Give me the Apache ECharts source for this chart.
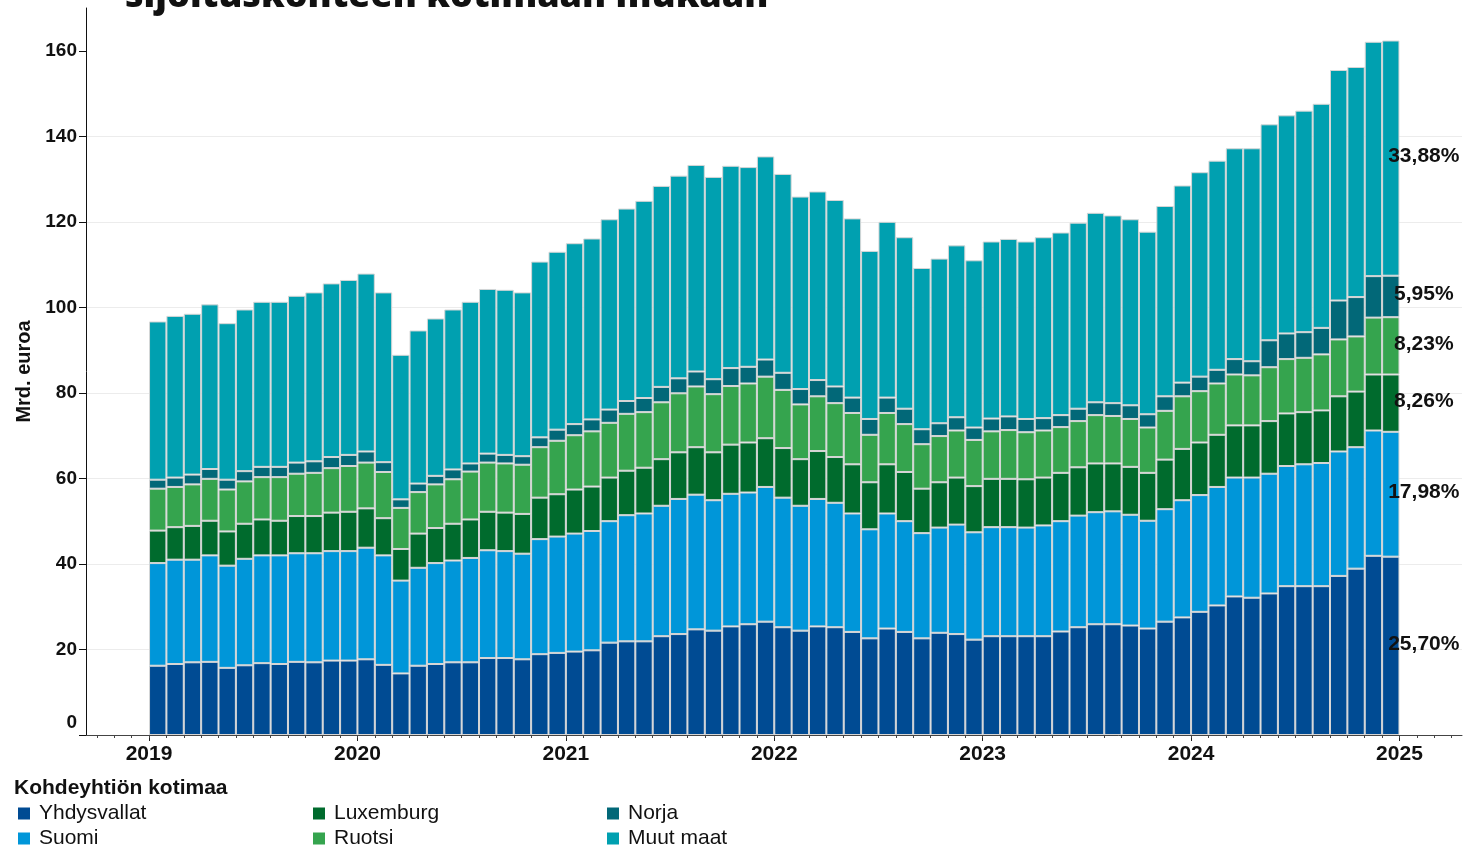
<!DOCTYPE html>
<html>
<head>
<meta charset="utf-8">
<title>Sijoituskohteen kotimaa</title>
<script src="https://cdn.jsdelivr.net/npm/echarts@6/dist/echarts.min.js"></script>
<style>
  html, body { margin: 0; padding: 0; background: #fff; }
  #main { width: 1465px; height: 848px; }
</style>
</head>
<body>
<div id="main"></div>
<script>
// vuodet (x-akselin tikit) ja kuukaudet
var yearLabels = ['2019', '2020', '2021', '2022', '2023', '2024', '2025'];
var monthNames = ['01', '02', '03', '04', '05', '06', '07', '08', '09', '10', '11', '12'];
var months = [];
yearLabels.slice(0, 6).forEach(function (y) {
    monthNames.forEach(function (m) { months.push(y + '-' + m); });
});

// mrd. euroa, tammikuu 2019 - joulukuu 2024
var yhdysvallat = [16.2, 16.6, 17.0, 17.1, 15.7, 16.3, 16.8, 16.6, 17.1, 17.0, 17.4, 17.4,
    17.7, 16.4, 14.4, 16.2, 16.6, 17.0, 17.0, 18.0, 18.0, 17.7, 18.9, 19.2,
    19.5, 19.8, 21.6, 21.9, 21.9, 23.1, 23.6, 24.7, 24.4, 25.4, 25.9, 26.5,
    25.2, 24.4, 25.4, 25.2, 24.1, 22.6, 24.9, 24.1, 22.6, 23.9, 23.6, 22.3,
    23.1, 23.1, 23.1, 23.1, 24.2, 25.2, 25.9, 25.9, 25.6, 24.9, 26.5, 27.5,
    28.8, 30.3, 32.4, 32.1, 33.1, 34.8, 34.8, 34.8, 37.2, 38.9, 41.9, 41.7];
var suomi = [24.0, 24.4, 24.0, 24.9, 23.9, 24.9, 25.2, 25.4, 25.4, 25.5, 25.6, 25.6,
    26.1, 25.6, 21.7, 22.9, 23.6, 23.8, 24.4, 25.2, 25.0, 24.7, 26.9, 27.2,
    27.6, 27.9, 28.4, 29.5, 29.9, 30.5, 31.6, 31.5, 30.5, 31.0, 30.8, 31.5,
    30.3, 29.2, 29.8, 29.1, 27.7, 25.5, 26.9, 25.9, 24.6, 24.6, 25.6, 25.1,
    25.5, 25.5, 25.4, 25.9, 25.8, 26.1, 26.2, 26.4, 25.9, 25.2, 26.3, 27.4,
    27.3, 27.7, 27.8, 28.1, 28.0, 28.1, 28.5, 28.8, 29.1, 28.4, 29.3, 29.2];
var luxemburg = [7.6, 7.6, 7.9, 8.1, 8.0, 8.2, 8.4, 8.1, 8.7, 8.7, 9.0, 9.2,
    9.2, 8.7, 7.4, 8.0, 8.2, 8.6, 9.0, 9.0, 9.0, 9.3, 9.7, 9.9,
    10.3, 10.4, 10.2, 10.4, 10.7, 10.9, 10.9, 11.1, 11.2, 11.5, 11.7, 11.4,
    11.6, 10.9, 11.2, 10.7, 11.5, 11.0, 11.5, 11.5, 10.4, 10.6, 11.0, 10.8,
    11.3, 11.3, 11.3, 11.2, 11.3, 11.3, 11.4, 11.2, 11.2, 11.2, 11.6, 12.0,
    12.3, 12.2, 12.2, 12.2, 12.3, 12.3, 12.2, 12.3, 12.9, 13.0, 13.1, 13.4];
var ruotsi = [9.8, 9.4, 9.7, 9.8, 9.8, 9.9, 9.9, 10.2, 9.9, 10.1, 10.4, 10.7,
    10.7, 10.8, 9.6, 9.7, 10.2, 10.4, 11.2, 11.5, 11.5, 11.5, 11.8, 12.5,
    12.7, 12.9, 12.8, 13.3, 13.0, 13.3, 13.8, 14.2, 13.6, 13.7, 13.8, 14.4,
    13.6, 12.8, 12.8, 12.6, 12.0, 11.1, 12.0, 11.2, 10.4, 10.8, 11.0, 10.8,
    11.1, 11.4, 11.0, 11.0, 10.7, 10.8, 11.3, 11.1, 11.2, 10.6, 11.4, 12.3,
    12.0, 12.0, 11.9, 11.7, 12.6, 12.7, 12.7, 13.1, 13.3, 12.9, 13.3, 13.4];
var norja = [2.1, 2.2, 2.3, 2.3, 2.3, 2.4, 2.4, 2.4, 2.6, 2.7, 2.6, 2.6,
    2.6, 2.3, 2.0, 2.0, 2.0, 2.3, 1.9, 2.1, 2.0, 2.0, 2.3, 2.6,
    2.6, 2.8, 3.1, 3.0, 3.3, 3.6, 3.5, 3.5, 3.5, 4.2, 3.9, 4.0,
    4.0, 3.6, 3.8, 3.9, 3.6, 3.7, 3.6, 3.6, 3.5, 3.0, 3.1, 2.9,
    3.0, 3.2, 3.1, 2.9, 2.8, 2.9, 3.0, 3.0, 3.2, 3.1, 3.4, 3.2,
    3.4, 3.2, 3.6, 3.3, 6.3, 6.0, 6.0, 6.2, 9.1, 9.2, 9.7, 9.7];
var muutMaat = [37.0, 37.8, 37.6, 38.5, 36.6, 37.8, 38.6, 38.6, 39.0, 39.5, 40.6, 40.9,
    41.6, 39.7, 33.8, 35.8, 36.8, 37.4, 37.8, 38.5, 38.6, 38.3, 41.1, 41.6,
    42.3, 42.3, 44.5, 45.0, 46.1, 47.0, 47.4, 48.3, 47.3, 47.3, 46.7, 47.5,
    46.5, 45.0, 44.1, 43.6, 41.9, 39.3, 41.1, 40.1, 37.7, 38.5, 40.2, 39.1,
    41.4, 41.5, 41.5, 42.3, 42.7, 43.5, 44.3, 43.9, 43.5, 42.7, 44.5, 46.1,
    47.8, 48.9, 49.3, 49.8, 50.5, 51.0, 51.8, 52.4, 53.9, 53.8, 54.8, 55.0];

// osuudet viimeisenä kuukautena
var lastShares = ['25,70%', '17,98%', '8,26%', '8,23%', '5,95%', '33,88%'];

var seriesNames = ['Yhdysvallat', 'Suomi', 'Luxemburg', 'Ruotsi', 'Norja', 'Muut maat'];
var seriesValues = [yhdysvallat, suomi, luxemburg, ruotsi, norja, muutMaat];
var colors = ['#004b93', '#0096d9', '#006b2d', '#35a44e', '#026878', '#00a0b0'];

var yTicks = [0, 20, 40, 60, 80, 100, 120, 140, 160];

var font = 'Liberation Sans, Arial, sans-serif';

// x-akseli kuukausina tammikuusta 2019 lähtien, pylväs kuukauden keskellä
var yearPos = yearLabels.map(function (y, i) { return i * 12; });
var monthPos = [];
for (var k = -3; k <= 75; k++) monthPos.push(k);
var xMin = -3.63, xMax = 75.6;

var myChart = echarts.init(document.getElementById('main'));

var series = seriesNames.map(function (name, s) {
    var vals = seriesValues[s];
    return {
        name: name,
        type: 'bar',
        stack: 'yht',
        barCategoryGap: '0%',
        xAxisIndex: 0,
        // arvo ensin, jotta pinoaminen tehdään arvon mukaan
        encode: { x: 1, y: 0 },
        itemStyle: { color: colors[s], borderColor: '#d6d6d6', borderWidth: 1 },
        data: vals.map(function (v, i) {
            var item = { value: [v, i + 0.5], name: months[i] };
            if (i === vals.length - 1) {
                item.label = {
                    show: true,
                    formatter: lastShares[s],
                    position: ['50%', '50%'],
                    align: 'center',
                    verticalAlign: 'middle',
                    offset: [33, -2],
                    color: '#111',
                    fontFamily: font,
                    fontWeight: 'bold',
                    fontSize: 21
                };
            }
            return item;
        })
    };
});

var legendBase = {
    orient: 'vertical',
    top: 803,
    height: 60,
    padding: 0,
    itemGap: 4,
    itemWidth: 12,
    itemHeight: 12,
    icon: 'rect',
    itemStyle: { borderWidth: 0 },
    textStyle: { fontFamily: font, fontSize: 21, color: '#111', lineHeight: 20, padding: [0, 0, 0, 4] }
};

var option = {
    animation: false,
    backgroundColor: '#fff',
    title: [{
        text: 'sijoituskohteen kotimaan mukaan',
        left: 125,
        top: -21,
        padding: 0,
        textStyle: { fontFamily: 'Open Sans', fontWeight: 800, fontSize: 36, color: '#111' }
    }, {
        text: 'Kohdeyhtiön kotimaa',
        left: 14,
        top: 778,
        padding: 0,
        textStyle: { fontFamily: font, fontWeight: 'bold', fontSize: 21, color: '#111' }
    }],
    legend: [
        Object.assign({}, legendBase, { left: 18, data: seriesNames.slice(0, 2) }),
        Object.assign({}, legendBase, { left: 313, data: seriesNames.slice(2, 4) }),
        Object.assign({}, legendBase, { left: 607, data: seriesNames.slice(4, 6) })
    ],
    grid: { left: 86, right: 3, top: 8, bottom: 113, containLabel: false },
    xAxis: [{
        type: 'value',
        min: xMin,
        max: xMax,
        axisLine: { show: true, onZero: false, lineStyle: { color: '#444', width: 1 } },
        axisTick: { show: true, length: 6, customValues: yearPos, lineStyle: { color: '#222' } },
        axisLabel: {
            customValues: yearPos,
            formatter: function (v) { return yearLabels[Math.round(v / 12)]; },
            margin: 9,
            fontFamily: font,
            fontWeight: 'bold',
            fontSize: 21,
            color: '#111'
        },
        splitLine: { show: false }
    }, {
        type: 'value',
        position: 'bottom',
        min: xMin,
        max: xMax,
        axisLine: { show: false, onZero: false },
        axisTick: { show: true, length: 3, customValues: monthPos, lineStyle: { color: '#444' } },
        axisLabel: { show: false },
        splitLine: { show: false }
    }],
    yAxis: {
        type: 'value',
        min: 0,
        max: 170,
        interval: 20,
        name: 'Mrd. euroa',
        nameLocation: 'middle',
        nameGap: 52,
        nameRotate: 90,
        nameTextStyle: { fontFamily: font, fontWeight: 'bold', fontSize: 20, color: '#111' },
        axisLine: { show: true, onZero: false, lineStyle: { color: '#111', width: 1 } },
        axisTick: { show: true, length: 7, customValues: yTicks, lineStyle: { color: '#111' } },
        axisLabel: {
            customValues: yTicks,
            margin: 9,
            fontFamily: font,
            fontWeight: 'bold',
            fontSize: 19,
            color: '#111',
            formatter: function (v) {
                return v === 0 ? '{z|0}' : String(v);
            },
            rich: {
                z: { fontFamily: font, fontWeight: 'bold', fontSize: 19, color: '#111', padding: [0, 0, 24, 0] }
            }
        },
        splitLine: { show: true, showMaxLine: false, lineStyle: { color: '#ececec', width: 1 } }
    },
    series: series
};

myChart.setOption(option);
</script>
</body>
</html>
